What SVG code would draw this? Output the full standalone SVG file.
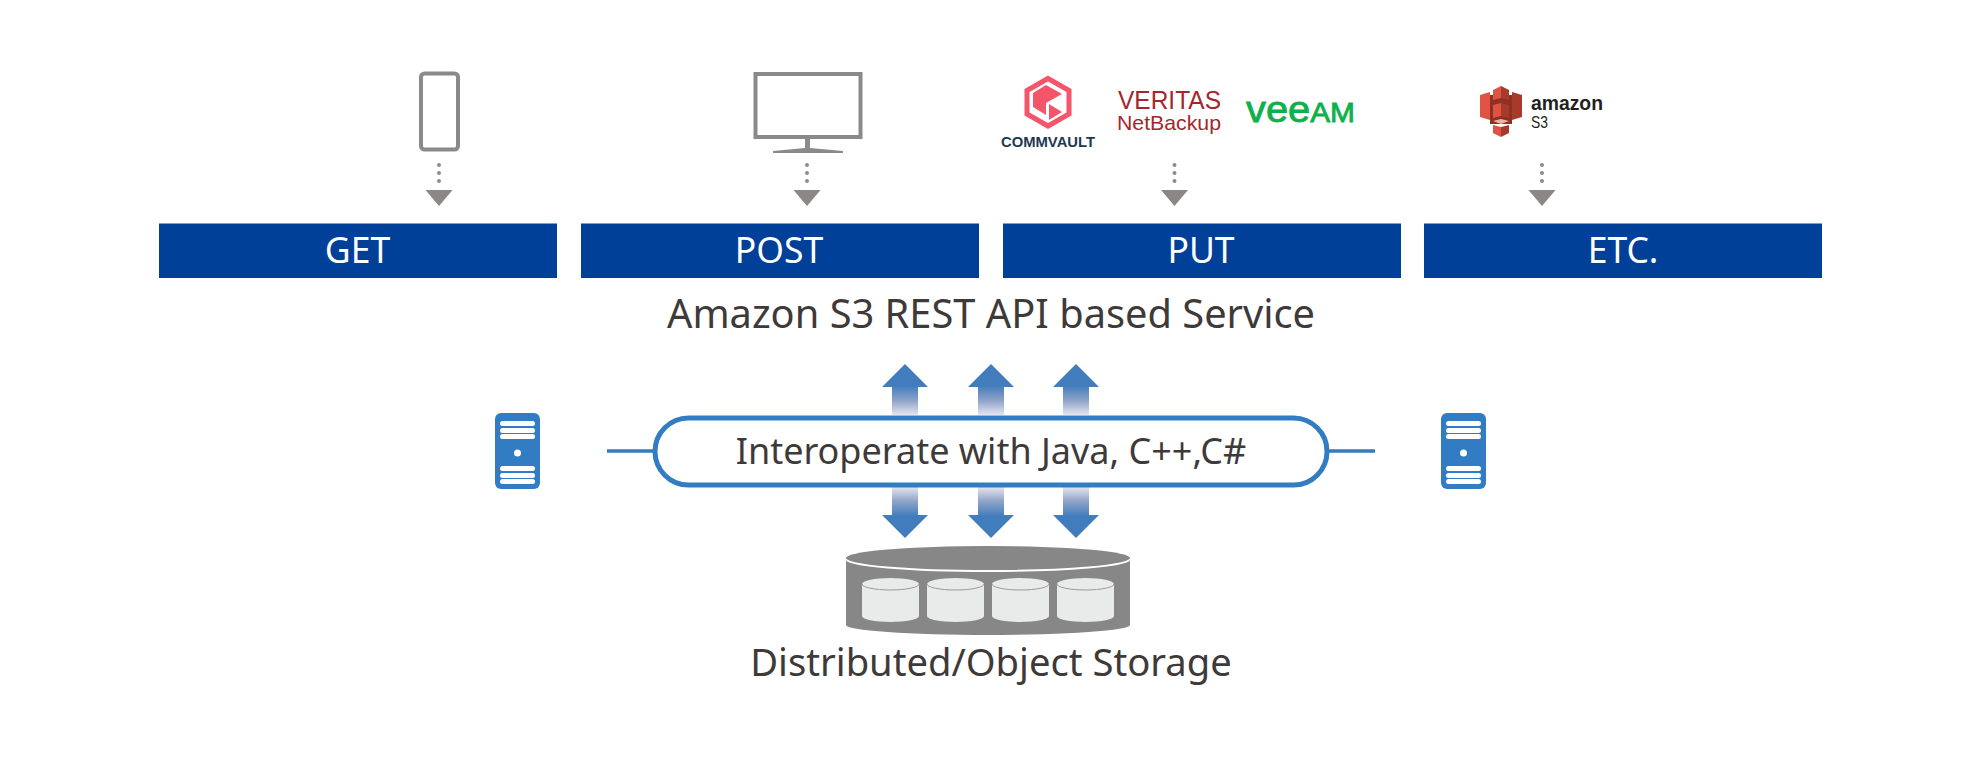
<svg xmlns="http://www.w3.org/2000/svg" width="1980" height="768" viewBox="0 0 1980 768">
<style>
text{font-family:"Noto Sans","Liberation Sans",sans-serif}
.bar{fill:#004098}
.lbl{fill:#fff;font-size:35.500px;text-anchor:middle}
.dark{fill:#3e3a39;font-size:38.200px;text-anchor:middle}
.ico{fill:none;stroke:#8a8a8a}
.dot{fill:none;stroke:#8e8b89;stroke-width:4;stroke-linecap:round;stroke-dasharray:0 8}
.tri{fill:#8a8784}
.srv{fill:#317cc2}
.w{fill:#fff}
.pipe{stroke:#317cc2;stroke-width:3.500;fill:none}
.can{fill:#e9eaea}
.canl{fill:none;stroke:#9a9c9c;stroke-width:1}
.arial{font-family:"Liberation Sans",Arial,sans-serif}
</style>
<defs>
<linearGradient id="up" x1="0" y1="0" x2="0" y2="1"><stop offset="0.42" stop-color="#417cbd"/><stop offset="0.72" stop-color="#8fa3c8"/><stop offset="1" stop-color="#e6e6ee"/></linearGradient>
<linearGradient id="down" x1="0" y1="1" x2="0" y2="0"><stop offset="0.42" stop-color="#417cbd"/><stop offset="0.72" stop-color="#8fa3c8"/><stop offset="1" stop-color="#e6e6ee"/></linearGradient>
<path id="upa" fill="url(#up)" d="M0 0L23 23H13V51H-13V23H-23Z"/>
<path id="downa" fill="url(#down)" d="M0 51L23 28H13V0H-13V28H-23Z"/>
<g id="server">
<rect class="srv" width="45" height="76" rx="6"/>
<rect class="w" x="5" y="8" width="35" height="5" rx="2.500"/><rect class="w" x="5" y="15" width="35" height="5" rx="2.500"/><rect class="w" x="5" y="21" width="35" height="5" rx="2.500"/>
<circle class="w" cx="22.500" cy="40" r="3.500"/>
<rect class="w" x="5" y="53" width="35" height="5" rx="2.500"/><rect class="w" x="5" y="60" width="35" height="5" rx="2.500"/><rect class="w" x="5" y="66" width="35" height="5" rx="2.500"/>
</g>
<g id="can">
<path class="can" d="M0 6A28.500 6 0 0 1 57 6V38A28.500 6 0 0 1 0 38Z"/>
<path class="canl" d="M0 6A28.500 6 0 0 0 57 6"/>
</g>
<g id="darrow">
<path class="dot" d="M0 0V24"/>
<path class="tri" d="M-13.500 25H13.500L0 41Z"/>
</g>
</defs>

<g id="connectors">
<use href="#darrow" x="439" y="165"/>
<use href="#darrow" x="807" y="165"/>
<use href="#darrow" x="1174.500" y="165"/>
<use href="#darrow" x="1542" y="165"/>
<path class="pipe" d="M607 451H655M1327 451H1375"/>
<use href="#upa" x="905" y="364"/><use href="#upa" x="991" y="364"/><use href="#upa" x="1076" y="364"/>
<use href="#downa" x="905" y="487"/><use href="#downa" x="991" y="487"/><use href="#downa" x="1076" y="487"/>
</g>

<g id="phone"><rect class="ico" x="421" y="73.500" width="37" height="76" rx="3.500" stroke-width="4"/></g>
<g id="monitor">
<rect class="ico" x="755.500" y="74" width="105" height="63" stroke-width="4"/>
<path fill="#8a8a8a" d="M805 137h5v11l33 3v2h-70v-2l32-3z"/>
</g>

<g id="commvault">
<path fill="none" stroke="#f5556b" stroke-width="5" d="M1048 78.500L1069 90.500V114L1048 126L1027 114V90.500Z"/>
<path fill="#f5556b" d="M1046 85L1062 94L1046 103V115L1033 107V93ZM1049 104L1062 112L1049 120Z"/>
<text class="arial" x="1001" y="147" font-size="14" font-weight="700" fill="#1b3a52" textLength="94" lengthAdjust="spacingAndGlyphs">COMMVAULT</text>
</g>
<g id="veritas">
<text class="arial" x="1118" y="109" font-size="25" fill="#a6262d" textLength="103" lengthAdjust="spacingAndGlyphs">VERITAS</text>
<text class="arial" x="1117" y="130" font-size="21" fill="#a6262d" textLength="104" lengthAdjust="spacingAndGlyphs">NetBackup</text>
</g>
<g id="veeam">
<text class="arial" x="1246" y="122" fill="#0db14b" stroke="#0db14b" stroke-width="0.800" font-size="36" textLength="109" lengthAdjust="spacingAndGlyphs">vee<tspan font-size="27">AM</tspan></text>
</g>
<g id="s3">
<path fill="#8c3123" d="M1490 95H1512V124H1490Z"/>
<path fill="#e05243" d="M1480 95L1490 92V120L1480 117ZM1493 90L1501 86V98L1493 100ZM1493 105L1501 103V116L1493 118ZM1493 125L1501 127V137L1493 133Z"/>
<path fill="#a83a2c" d="M1512 92L1522 95V117L1512 120ZM1501 86L1509 90V100L1501 98ZM1501 103L1509 105V118L1501 116ZM1501 127L1509 125V133L1501 137Z"/>
<path fill="#f2b0a9" d="M1493 121L1501 119L1509 121L1501 124Z"/>
<text class="arial" x="1531" y="110" font-size="21" font-weight="700" fill="#231f20" textLength="72" lengthAdjust="spacingAndGlyphs">amazon</text>
<text class="arial" x="1531" y="128" font-size="17" fill="#231f20" textLength="17" lengthAdjust="spacingAndGlyphs">S3</text>
</g>

<g id="get"><rect class="bar" x="159" y="223.500" width="398" height="54.500"/><text class="lbl" x="357.500" y="262.500">GET</text></g>
<g id="post"><rect class="bar" x="581" y="223.500" width="398" height="54.500"/><text class="lbl" x="779" y="262.500">POST</text></g>
<g id="put"><rect class="bar" x="1003" y="223.500" width="398" height="54.500"/><text class="lbl" x="1201" y="262.500">PUT</text></g>
<g id="etc"><rect class="bar" x="1424" y="223.500" width="398" height="54.500"/><text class="lbl" x="1623" y="262.500">ETC.</text></g>
<text class="dark" x="991" y="328" style="font-size:39.800px">Amazon S3 REST API based Service</text>

<g id="server-left"><use href="#server" x="495" y="413"/></g>
<g id="server-right"><use href="#server" x="1441" y="413"/></g>
<g id="interop">
<rect x="655" y="418" width="672" height="67" rx="33.500" fill="#fff" stroke="#317cc2" stroke-width="5"/>
<text class="dark" x="991" y="464" style="font-size:36px">Interoperate with Java, C++,C#</text>
</g>
<g id="storage">
<path fill="#878787" d="M846 558H1130V625A142 10 0 0 1 846 625Z"/>
<ellipse cx="988" cy="558" rx="142" ry="12" fill="#878787"/>
<path fill="none" stroke="#fff" stroke-width="2" d="M846 559A142 12 0 0 0 1130 559"/>
<use href="#can" x="862" y="578"/><use href="#can" x="927" y="578"/><use href="#can" x="992" y="578"/><use href="#can" x="1057" y="578"/>
<text class="dark" x="991" y="676">Distributed/Object Storage</text>
</g>
</svg>
